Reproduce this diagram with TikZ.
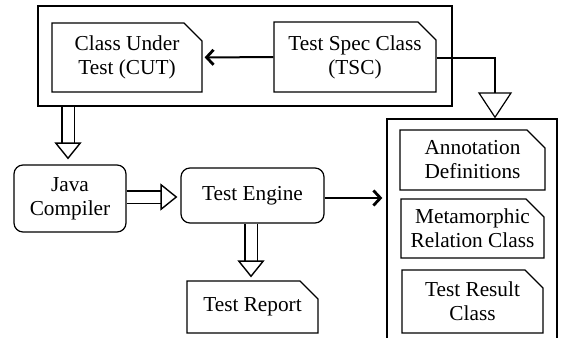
\documentclass[tikz,border=0pt]{standalone}
\usepackage{fontspec}
\setmainfont{Liberation Serif}
\usetikzlibrary{arrows.meta,positioning,shapes.misc}

\tikzset{
  cls/.style={draw,line width=1.2pt,chamfered rectangle,chamfered rectangle corners=north east,
    chamfered rectangle xsep=9pt,chamfered rectangle ysep=9pt,inner sep=0pt,align=center},
  tool/.style={draw,line width=1.2pt,rounded corners=9pt,align=center,inner sep=0pt},
  frame/.style={draw,line width=1.3pt,inner sep=0pt},
  hollow/.style={double,double distance=11pt,line width=1.4pt,
    -{Triangle[open,length=17pt,width=27pt,line width=1.4pt]}},
  flow/.style={line width=2pt,-{Straight Barb[length=7pt,width=15pt,line width=2.8pt]}}
}

\begin{document}
\begin{tikzpicture}[x=1pt,y=-1pt,node distance=2cm,on grid,
  font=\rmfamily\fontsize{21.3}{24}\selectfont]
   \useasboundingbox (0,0) rectangle (564,337);
   \node[frame,minimum width=414pt,minimum height=100pt] (spec) at (245,56) {};
   \node[cls,minimum width=150pt,minimum height=69pt] (cut) at (127,57.5) {Class Under\\Test (CUT)};
   \node[cls,minimum width=162pt,minimum height=70pt] (tsc) at (355,57) {Test Spec Class\\(TSC)};
   \node[frame,minimum width=170pt,minimum height=230pt] (lib) at (472,234) {};
   \node[cls,minimum width=145pt,minimum height=60pt] (annot) at (472.5,160) {Annotation\\Definitions};
   \node[cls,minimum width=143pt,minimum height=59pt] (meta) [below=68.5pt of annot] {Metamorphic\\Relation Class};
   \node[cls,minimum width=141pt,minimum height=63pt] (result) [below=73pt of meta] {Test Result\\Class};
   \node[tool,minimum width=112pt,minimum height=67pt] (javac) at (70,198.5) {Java\\Compiler};
   \node[tool,minimum width=143pt,minimum height=55pt] (engine) at (252.5,195.5) {Test Engine};
   \node[cls,minimum width=131pt,minimum height=52pt] (report) [below=111.5pt of engine] {Test Report};
   \coordinate (bend) at (495,58);
    \draw[flow,shorten >=2pt] (tsc) -- (cut);
    \draw[line width=1.2pt,-{Triangle[open,length=26pt,width=34pt,line width=1.2pt]}]
      (tsc.east |- bend) -- (bend) -- (bend |- lib.north);
    \draw[hollow,shorten >=5pt] (spec.south -| 68,0) -- (javac.north -| 68,0);
    \draw[hollow,shorten >=3pt] (javac.east |- 0,197) -- (engine.west |- 0,197);
    \draw[hollow,shorten >=3pt] (engine.south -| 251,0) -- (report.north -| 251,0);
    \draw[flow,shorten >=4pt] (engine.east |- 0,198) -- (lib.west |- 0,198);
\end{tikzpicture}
\end{document}
